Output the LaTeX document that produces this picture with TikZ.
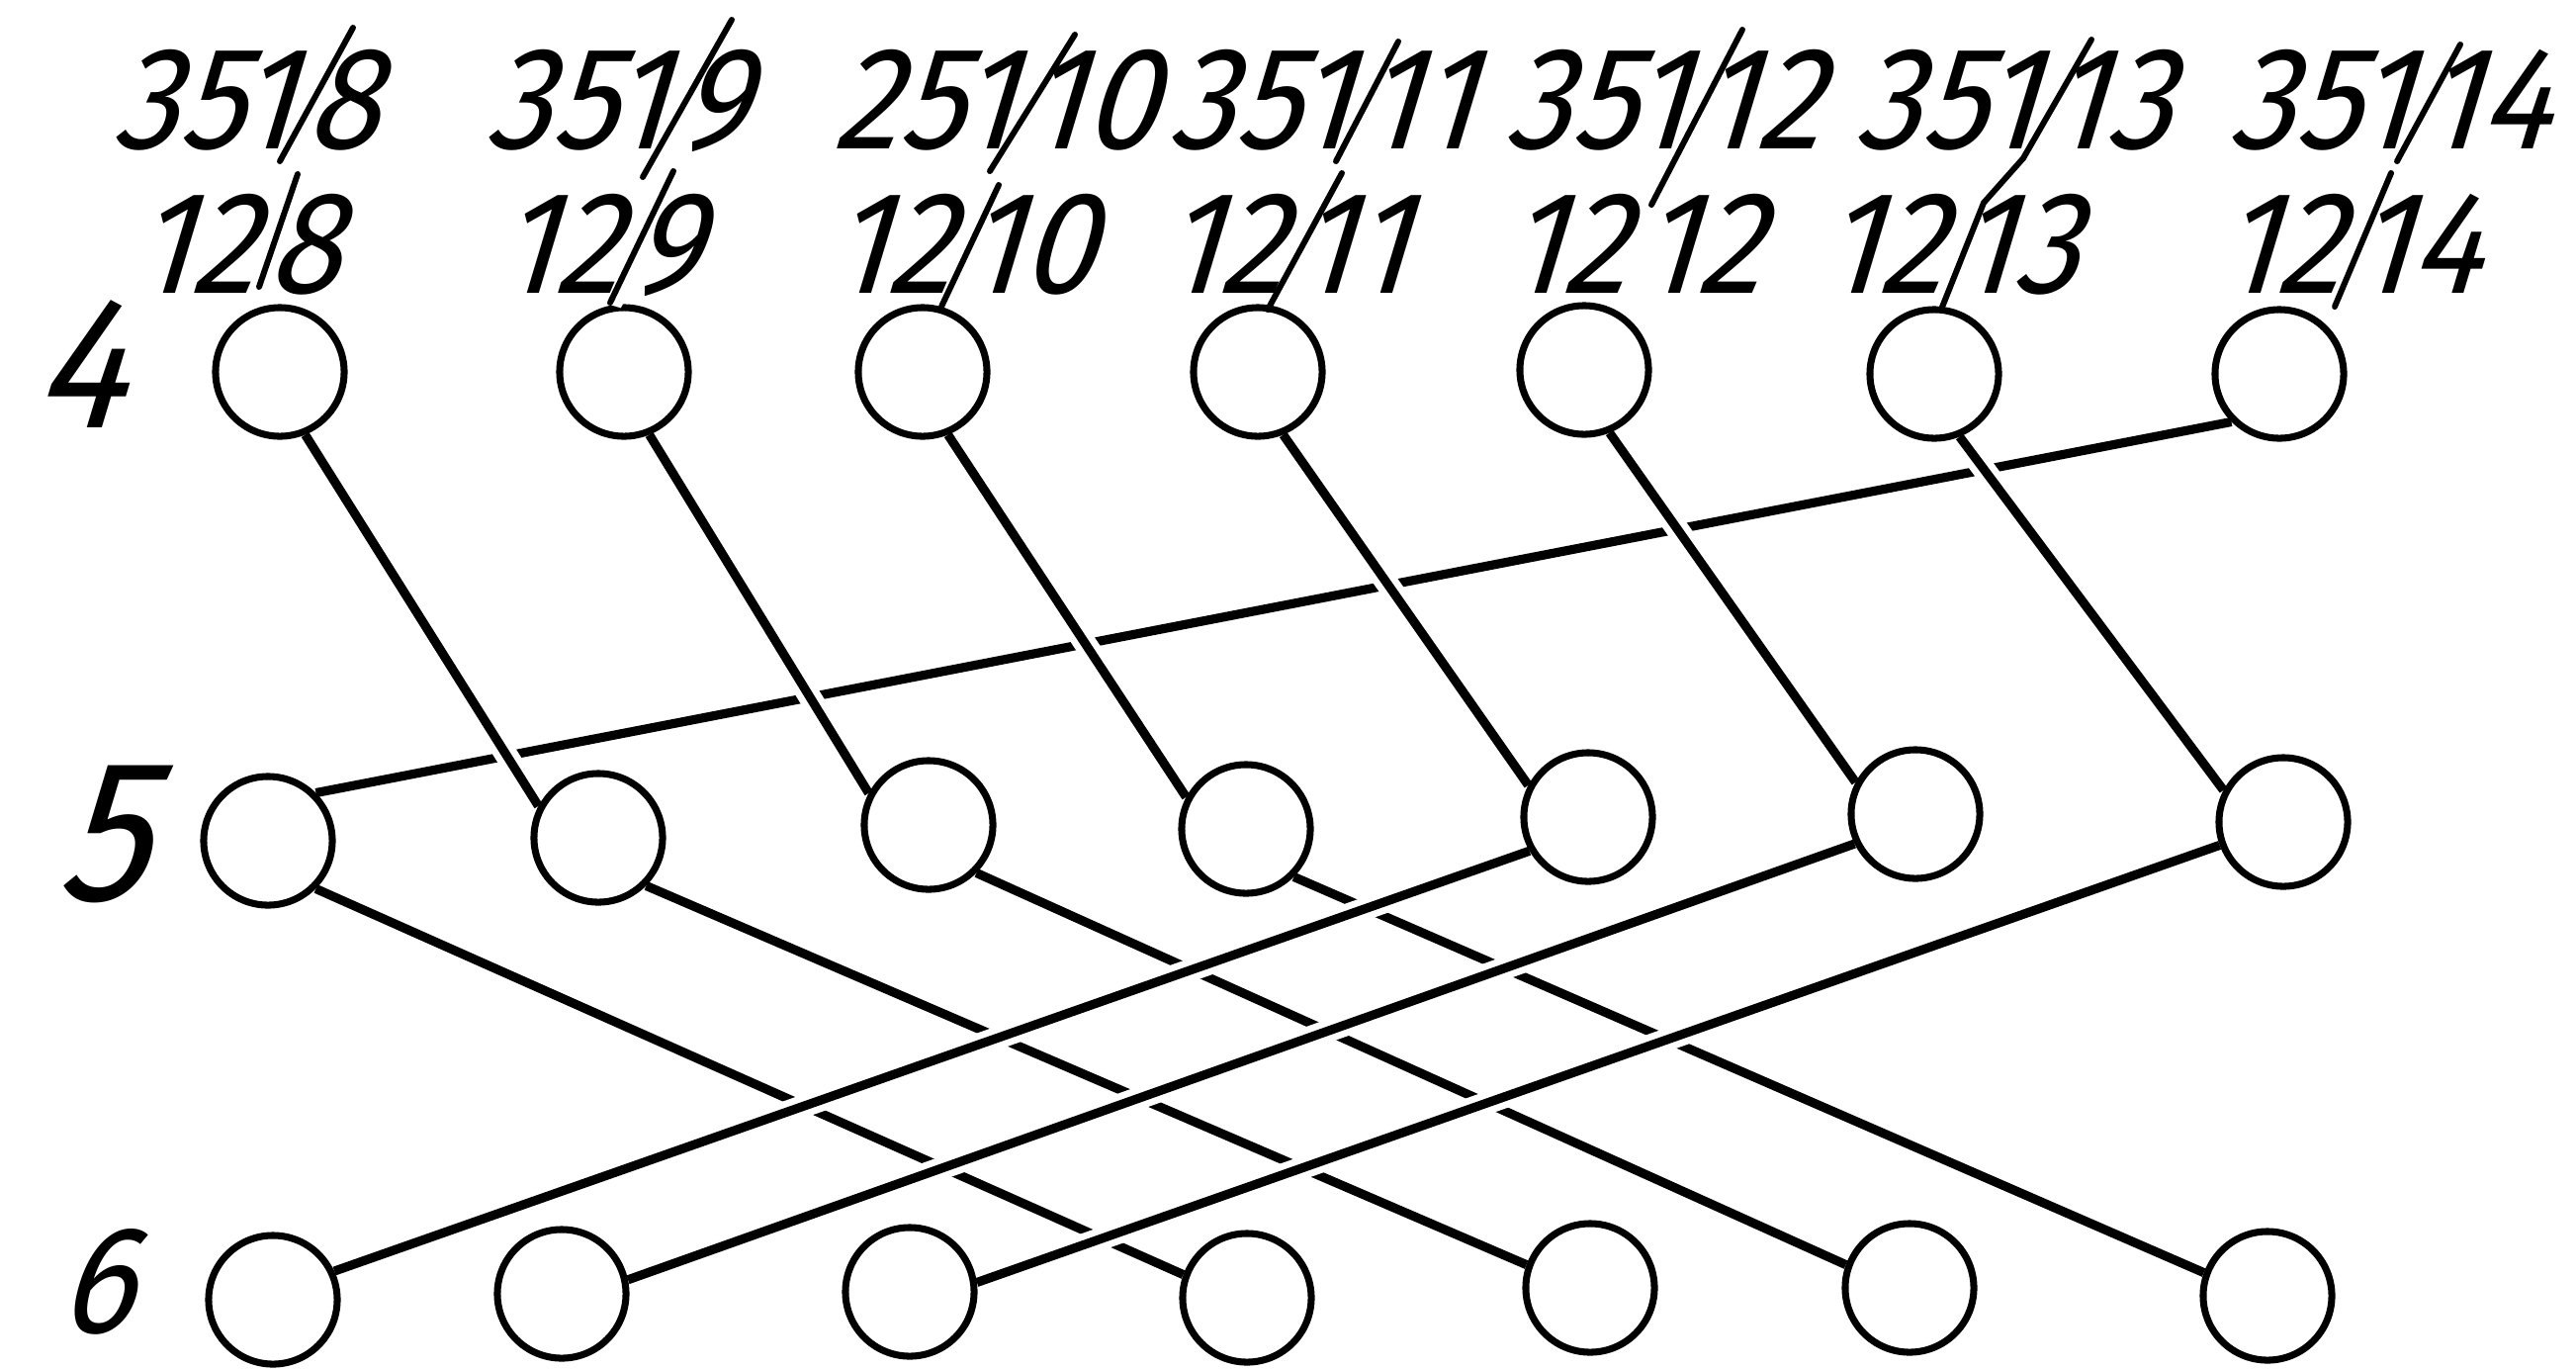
\documentclass[tikz,border=0pt]{standalone}
\usepackage{fontspec}
\newfontfamily\hand{Fira Sans}[FakeSlant=0.3,FakeStretch=0.9,Numbers=Proportional]
\usetikzlibrary{backgrounds}
\newcommand\mylab[2]{\llap{#1\kern5pt}\hbox to 0pt{\hss\textcolor{white}{/}\hss}\rlap{\kern-1.5pt#2}}
\begin{document}
\begin{tikzpicture}[x=0.01cm,y=-0.01cm,
  circ/.style={circle,draw,line width=2pt,minimum size=1.30cm,inner sep=0pt},
  wire/.style={line width=2.6pt,preaction={draw=white,line width=6.5pt}},
  slashline/.style={line width=1.7pt,line cap=round,line join=round},
  lab/.style={font=\hand\fontsize{42}{42}\selectfont,anchor=base,inner sep=0pt},
  rowlab/.style={inner sep=0pt}]
\useasboundingbox (0,0) rectangle (2605,1384);
% row 4
\node[circ] (a1) at (283,376) {};
\node[circ] (a2) at (631,376) {};
\node[circ] (a3) at (933,376) {};
\node[circ] (a4) at (1272,376) {};
\node[circ] (a5) at (1602,374) {};
\node[circ] (a6) at (1956,378) {};
\node[circ] (a7) at (2305,378) {};
% row 5
\node[circ] (b1) at (271,850) {};
\node[circ] (b2) at (605,847) {};
\node[circ] (b3) at (939,834) {};
\node[circ] (b4) at (1260,838) {};
\node[circ] (b5) at (1606,826) {};
\node[circ] (b6) at (1937,823) {};
\node[circ] (b7) at (2309,831) {};
% row 6
\node[circ] (c1) at (276,1314) {};
\node[circ] (c2) at (568,1308) {};
\node[circ] (c3) at (920,1306) {};
\node[circ] (c4) at (1261,1312) {};
\node[circ] (c5) at (1608,1302) {};
\node[circ] (c6) at (1931,1302) {};
\node[circ] (c7) at (2293,1310) {};
% row labels
\node[rowlab,font=\hand\fontsize{54}{54}\selectfont] (r4) at (78,368) {4};
\node[rowlab,font=\hand\fontsize{58}{58}\selectfont] (r5) at (101,843) {5};
\node[rowlab,font=\hand\fontsize{44}{44}\selectfont] (r6) at (96,1296) {6};
% top labels
\node[lab] (l1) at (314,150) {\mylab{351}{8}};
\node[lab] (l2) at (691,150) {\mylab{351}{9}};
\node[lab] (l3) at (1042,150) {\mylab{251}{10}};
\node[lab] (l4) at (1382,150) {\mylab{351}{11}};
\node[lab] (l5) at (1722,150) {\mylab{351}{12}};
\node[lab] (l6) at (2076,150) {\mylab{351}{13}};
\node[lab] (l7) at (2454,150) {\mylab{351}{14}};
% second labels
\node[lab] (m1) at (275,296) {\mylab{12}{8}};
\node[lab] (m2) at (643,296) {\mylab{12}{9}};
\node[lab] (m3) at (979,296) {\mylab{12}{10}};
\node[lab] (m4) at (1315,296) {\mylab{12}{11}};
\node[lab] (m5) at (1662,296) {\llap{12\kern5pt}\hbox to 0pt{\hss\ \hss}\rlap{\kern-1.5pt 12}};
\node[lab] (m6) at (1982,296) {\mylab{12}{13}};
\node[lab] (m7) at (2384,296) {\mylab{12}{14}};
% slash strokes
\draw[slashline] (357,28) -- (283,163);
\draw[slashline] (301,176) -- (262,290);
\draw[slashline] (740,20) -- (650,179);
\draw[slashline] (681,173) -- (617,306);
\draw[slashline] (1087,35) -- (1001,173);
\draw[slashline] (1010,187) -- (952,310);
\draw[slashline] (1414,42) -- (1351,163);
\draw[slashline] (1357,175) -- (1282,313);
\draw[slashline] (1762,30) -- (1670,207);
\draw[slashline] (2115,40) -- (2046,160) -- (2006,205) -- (1963,313);
\draw[slashline] (2488,45) -- (2424,163);
\draw[slashline] (2418,175) -- (2361,310);
% connectors
\begin{scope}[on background layer]
\draw[wire] (a7.-135) -- (b1.45);
\foreach \i/\j in {1/2,2/3,3/4,4/5,5/6,6/7}
  \draw[wire] (a\i.-68) -- (b\j.152);
\foreach \i/\j in {1/4,2/5,3/6,4/7}
  \draw[wire] (b\i.-45) -- (c\j.160);
\draw[wire] (b5.210) -- (c1.25);
\draw[wire] (b6.206) -- (c2.12);
\draw[wire] (b7.200) -- (c3.8);
\end{scope}
\end{tikzpicture}
\end{document}
